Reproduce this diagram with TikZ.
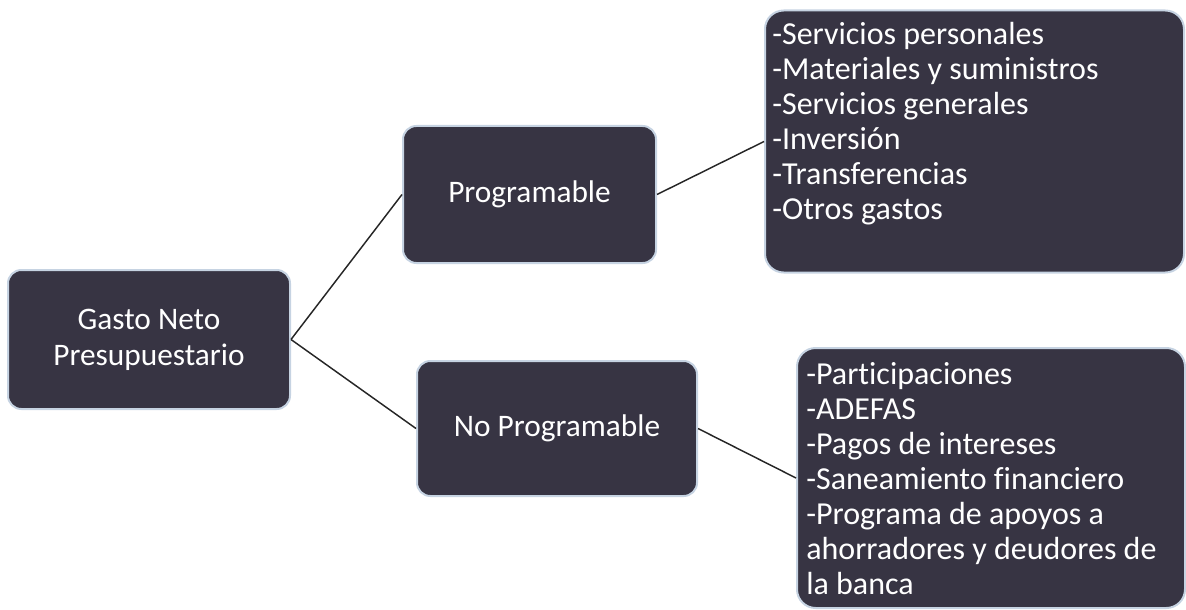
\documentclass[tikz,border=0pt]{standalone}
\usepackage{fontspec}
\setmainfont{Carlito}[Ligatures=CommonOff]
\usetikzlibrary{positioning}
\definecolor{boxfill}{HTML}{373443}
\definecolor{boxline}{HTML}{C6D3E2}
\tikzset{box/.style={rectangle,rounded corners=10pt,draw=boxline,line width=1.5pt,fill=boxfill,text=white,align=center,font=\fontsize{23.5}{27}\selectfont}}
\tikzset{listbox/.style={box,rounded corners=14pt}}
\tikzset{listtext/.style={text=white,align=left,anchor=north west,inner sep=0pt,font=\fontsize{24}{26.25}\selectfont}}
\tikzset{link/.style={draw=black!85,line width=1.1pt}}

\begin{document}
\begin{tikzpicture}[x=0.75pt,y=-0.75pt]
\useasboundingbox (0,0) rectangle (1186,610);

\node[box, minimum width=211.5pt, minimum height=104.25pt] (gasto) at (149,339.5) {Gasto Neto\\Presupuestario};
\node[box, minimum width=189.75pt, minimum height=102.75pt] (prog) at (529.5,194.5) {Programable};
\node[box, minimum width=210pt, minimum height=101.25pt] (noprog) at (557,428.5) {No Programable};
\node[listbox, minimum width=314.25pt, minimum height=196.5pt] (lprog) at (974.5,141.5) {};
\node[listbox, minimum width=291pt, minimum height=195pt] (lnoprog) at (991,478) {};

\node[listtext] (tprog) at (772,22) {-Servicios personales\\-Materiales y suministros\\-Servicios generales\\-Inversión\\-Transferencias\\-Otros gastos};
\node[listtext] (tnoprog) at (806,362) {-Participaciones\\-ADEFAS\\-Pagos de intereses\\-Saneamiento financiero\\-Programa de apoyos a\\ahorradores y deudores de\\la banca};

\draw[link] (gasto.east) -- (prog.west);
\draw[link] (gasto.east) -- (noprog.west);
\draw[link] (prog.east) -- (lprog.west);
\draw[link] (noprog.east) -- (lnoprog.west);
\end{tikzpicture}
\end{document}
